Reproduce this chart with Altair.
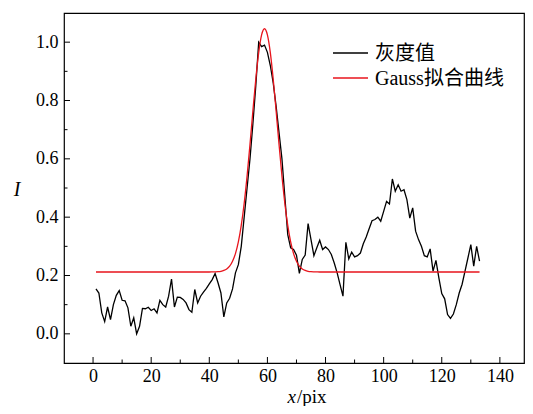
import altair as alt
import pandas as pd

# ---- data ----
gray_x = list(range(1, 134))
gray_y = [
    0.154, 0.140, 0.072, 0.042, 0.092, 0.049, 0.100, 0.132, 0.148, 0.115,
    0.113, 0.089, 0.026, 0.055, 0.000, 0.026, 0.087, 0.086, 0.091, 0.080,
    0.086, 0.072, 0.115, 0.100, 0.092, 0.129, 0.188, 0.092, 0.126, 0.125,
    0.118, 0.106, 0.083, 0.074, 0.152, 0.106, 0.129, 0.143, 0.156, 0.171,
    0.186, 0.207, 0.175, 0.140, 0.058, 0.106, 0.122, 0.154, 0.209, 0.237,
    0.300, 0.400, 0.500, 0.600, 0.720, 0.850, 1.000, 0.985, 0.990, 0.965,
    0.920, 0.860, 0.780, 0.690, 0.600, 0.470, 0.340, 0.295, 0.289, 0.270,
    0.207, 0.255, 0.270, 0.378, 0.323, 0.268, 0.295, 0.321, 0.289, 0.298,
    0.289, 0.272, 0.243, 0.209, 0.169, 0.129, 0.314, 0.257, 0.280, 0.264,
    0.268, 0.277, 0.309, 0.332, 0.360, 0.388, 0.392, 0.400, 0.386, 0.420,
    0.454, 0.445, 0.531, 0.489, 0.511, 0.489, 0.494, 0.460, 0.397, 0.432,
    0.352, 0.323, 0.300, 0.268, 0.264, 0.291, 0.215, 0.252, 0.192, 0.138,
    0.120, 0.066, 0.053, 0.068, 0.100, 0.140, 0.170, 0.215, 0.260, 0.306,
    0.232, 0.300, 0.249,
]

fit_x = [1, 40, 41, 42, 43, 44, 45, 46, 47, 48, 49, 50, 51, 52, 53, 54, 55,
         56, 57, 58, 59, 60, 61, 62, 63, 64, 65, 66, 67, 68, 69, 70, 71, 72,
         73, 74, 75, 76, 77, 78, 133]
fit_y = [0.212, 0.212, 0.2122, 0.2125, 0.2131, 0.2145, 0.2173, 0.2226, 0.232,
         0.249, 0.275, 0.315, 0.372, 0.447, 0.541, 0.649, 0.764, 0.873, 0.964,
         1.025, 1.046, 1.025, 0.964, 0.873, 0.764, 0.649, 0.541, 0.447, 0.372,
         0.315, 0.275, 0.249, 0.232, 0.2226, 0.2173, 0.2145, 0.2131, 0.2125,
         0.2122, 0.212, 0.212]

x_major = [0, 20, 40, 60, 80, 100, 120, 140]
x_minor = [10, 30, 50, 70, 90, 110, 130]
y_major = [0.0, 0.2, 0.4, 0.6, 0.8, 1.0]
y_minor = [0.1, 0.3, 0.5, 0.7, 0.9]
legend_labels = ["灰度值", "Gauss拟合曲线"]
legend_colors = ["#000000", "#e8141c"]
x_title_parts = ["x", "/pix"]
y_title = "I"

SERIF = "Liberation Serif, Noto Sans CJK SC"
W, H = 460, 350

xs = alt.Scale(domain=[-10, 148.3], nice=False, zero=False)
ys = alt.Scale(domain=[-0.1, 1.1], nice=False, zero=False)

gray_df = pd.DataFrame({"x": gray_x, "y": gray_y})
fit_df = pd.DataFrame({"x": fit_x, "y": fit_y})
legend_df = pd.DataFrame({"label": legend_labels, "color": legend_colors})

x_axis = alt.Axis(values=x_major, title=None, ticks=False, domain=False, grid=False,
                  labelFont=SERIF, labelFontSize=18, labelColor="black",
                  labelPadding=4, format="d")
y_axis = alt.Axis(values=y_major, title=None, ticks=False, domain=False, grid=False,
                  labelFont=SERIF, labelFontSize=18, labelColor="black",
                  labelPadding=6, format=".1f")

gray_line = alt.Chart(gray_df).mark_line(color=legend_colors[0], strokeWidth=1.3).encode(
    x=alt.X("x:Q", scale=xs, axis=x_axis),
    y=alt.Y("y:Q", scale=ys, axis=y_axis),
)
fit_line = alt.Chart(fit_df).mark_line(color=legend_colors[1], strokeWidth=1.3,
                                       interpolate="monotone").encode(
    x=alt.X("x:Q", scale=xs, axis=x_axis),
    y=alt.Y("y:Q", scale=ys, axis=y_axis),
)

def xticks(vals, length):
    return alt.Chart(pd.DataFrame({"v": vals})).mark_rule(color="black", strokeWidth=1).encode(
        x=alt.X("v:Q", scale=xs, axis=x_axis), y=alt.value(H), y2=alt.value(H - length))

def yticks(vals, length):
    return alt.Chart(pd.DataFrame({"v": vals})).mark_rule(color="black", strokeWidth=1).encode(
        y=alt.Y("v:Q", scale=ys, axis=y_axis), x=alt.value(0), x2=alt.value(length))

layers = [gray_line, fit_line,
          xticks(x_major, 6), xticks(x_minor, 3.5),
          yticks(y_major, 6), yticks(y_minor, 3.5)]

# legend
leg_y = [40, 65]
for i, lab in enumerate(legend_labels):
    row = legend_df[legend_df["label"] == lab]
    layers.append(alt.Chart(row).mark_rule(color=legend_colors[i], strokeWidth=1.3).encode(
        x=alt.value(269), x2=alt.value(304), y=alt.value(leg_y[i])))
    layers.append(alt.Chart(row).mark_text(font=SERIF, fontSize=20, align="left",
                                           baseline="middle", color="black").encode(
        text="label:N", x=alt.value(311), y=alt.value(leg_y[i] + 1)))

# axis titles
layers.append(alt.Chart(pd.DataFrame({"t": [x_title_parts[0]]})).mark_text(
    font=SERIF, fontSize=19, fontStyle="italic", align="right", baseline="alphabetic",
    color="black").encode(text="t:N", x=alt.value(232), y=alt.value(390)))
layers.append(alt.Chart(pd.DataFrame({"t": [x_title_parts[1]]})).mark_text(
    font=SERIF, fontSize=19, align="left", baseline="alphabetic",
    color="black").encode(text="t:N", x=alt.value(233), y=alt.value(390)))
layers.append(alt.Chart(pd.DataFrame({"t": [y_title]})).mark_text(
    font=SERIF, fontSize=20, fontStyle="italic", align="center", baseline="middle",
    color="black").encode(text="t:N", x=alt.value(-47), y=alt.value(177)))

chart = alt.layer(*layers).properties(
    width=W, height=H,
    autosize=alt.AutoSizeParams(type="none"),
    padding={"left": 56, "top": 5, "right": 1, "bottom": 43},
    background="white",
).configure_view(stroke="black", strokeWidth=1.2)

chart.save("out.html", embed_options={"renderer": "svg", "actions": False})
